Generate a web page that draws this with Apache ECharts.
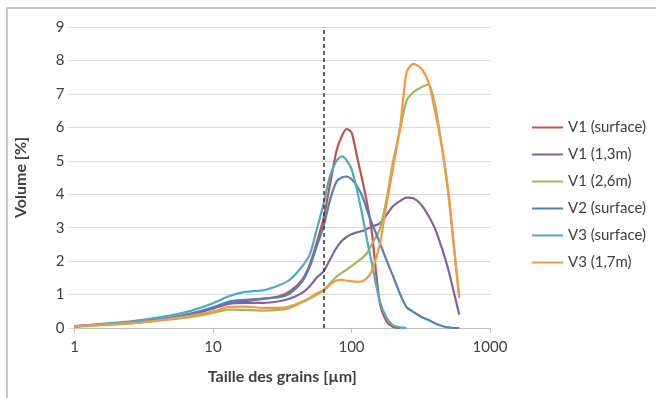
<!DOCTYPE html>
<html>
<head>
<meta charset="utf-8">
<script src="https://cdn.jsdelivr.net/npm/echarts@6/dist/echarts.min.js"></script>
<style>
  html, body { margin: 0; padding: 0; background: #fff; }
  #chart { width: 656px; height: 398px; }
</style>
</head>
<body>
<div id="chart"></div>
<script>
// taille des grains (µm)
var sizes = [1, 2, 3, 5, 7, 10, 13, 17, 23, 30, 36, 44, 50, 56, 63, 70, 78, 85, 92, 100,
  110, 120, 130, 140, 160, 180, 200, 225, 250, 280, 320, 360, 400, 450, 500, 550, 600];

// volume (%)
var v1Surface = [0.05, 0.13, 0.19, 0.3, 0.42, 0.6, 0.75, 0.8, 0.87, 0.95, 1.1, 1.44, 1.9, 2.54, 3.3, 4.3, 5.3, 5.73, 5.95, 5.85,
  5.1, 4.4, 3.7, 2.9, 0.75, 0.18, 0.03, 0, null, null, null, null, null, null, null, null, null];
var v1_13m = [0.05, 0.13, 0.19, 0.3, 0.4, 0.58, 0.72, 0.75, 0.75, 0.8, 0.88, 1.05, 1.25, 1.5, 1.7, 2.05, 2.4, 2.6, 2.72, 2.8,
  2.86, 2.9, 2.97, 3.03, 3.13, 3.4, 3.65, 3.8, 3.9, 3.88, 3.68, 3.35, 2.98, 2.38, 1.75, 1.05, 0.4];
var v1_26m = [0.04, 0.11, 0.16, 0.26, 0.33, 0.45, 0.55, 0.54, 0.52, 0.54, 0.6, 0.77, 0.88, 0.99, 1.14, 1.33, 1.54, 1.65, 1.74, 1.85,
  1.98, 2.1, 2.25, 2.5, 2.95, 3.9, 5.0, 5.95, 6.8, 7.05, 7.2, 7.28, 6.7, 5.4, 4.0, 2.4, 0.9];
var v2Surface = [0.05, 0.14, 0.2, 0.32, 0.44, 0.62, 0.79, 0.84, 0.88, 0.92, 1.04, 1.39, 1.84, 2.43, 3.05, 3.83, 4.38, 4.5, 4.53, 4.45,
  4.23, 3.93, 3.5, 3.15, 2.55, 2.0, 1.54, 1.0, 0.62, 0.48, 0.33, 0.24, 0.14, 0.06, 0.02, 0, 0];
var v3Surface = [0.06, 0.16, 0.24, 0.38, 0.52, 0.74, 0.95, 1.08, 1.13, 1.28, 1.45, 1.84, 2.2, 2.93, 3.74, 4.55, 5.0, 5.13, 5.02, 4.75,
  4.1, 3.35, 2.6, 1.95, 0.8, 0.3, 0.08, 0.02, 0, null, null, null, null, null, null, null, null];
var v3_17m = [0.05, 0.12, 0.17, 0.28, 0.37, 0.49, 0.63, 0.64, 0.6, 0.6, 0.65, 0.79, 0.9, 1.04, 1.12, 1.3, 1.42, 1.44, 1.42, 1.4,
  1.38, 1.4, 1.5, 1.7, 2.5, 3.75, 4.8, 6.05, 7.65, 7.9, 7.75, 7.35, 6.5, 5.4, 4.1, 2.4, 0.9];

var names = ['V1 (surface)', 'V1 (1,3m)', 'V1 (2,6m)', 'V2 (surface)', 'V3 (surface)', 'V3 (1,7m)'];
var colors = ['#C0504D', '#8064A2', '#9BBB59', '#4F81BD', '#4BACC6', '#F79646'];
var allValues = [v1Surface, v1_13m, v1_26m, v2Surface, v3Surface, v3_17m];
var limite = 63; // trait pointillé (µm)

var font = 'Lato, "Open Sans", sans-serif';

var chart = echarts.init(document.getElementById('chart'));

var series = names.map(function (n, k) {
  var data = [];
  sizes.forEach(function (s, i) {
    if (allValues[k][i] != null) data.push([s, allValues[k][i]]);
  });
  var s = {
    name: n,
    type: 'line',
    data: data,
    showSymbol: false,
    symbol: 'none',
    smooth: 0.25,
    lineStyle: { width: 2.2, color: colors[k] },
    itemStyle: { color: colors[k] },
    z: 3
  };
  if (k === 0) {
    s.markLine = {
      silent: true,
      symbol: ['none', 'none'],
      label: { show: false },
      lineStyle: { type: [4, 3], color: '#404040', width: 1.6 },
      data: [{ xAxis: limite }]
    };
  }
  return s;
});

var option = {
  animation: false,
  color: colors,
  textStyle: { fontFamily: font },
  graphic: [{
    type: 'rect',
    shape: { x: 7, y: 8, width: 670, height: 420 },
    style: { fill: 'none', stroke: '#c8c8c8', lineWidth: 2 }
  }],
  grid: { left: 74.5, right: 166, top: 27, bottom: 70 },
  legend: {
    orient: 'vertical',
    left: 527,
    top: 115,
    itemWidth: 31,
    itemHeight: 2,
    itemGap: 12,
    icon: 'rect',
    textStyle: { fontSize: 15, lineHeight: 15, color: '#404040', fontFamily: font },
    data: names
  },
  xAxis: {
    type: 'log',
    logBase: 10,
    min: 1,
    max: 1000,
    name: 'Taille des grains [µm]',
    nameLocation: 'middle',
    nameGap: 41,
    nameTextStyle: { fontSize: 16, fontWeight: 'bold', color: '#404040', fontFamily: font },
    axisLine: { lineStyle: { color: '#bfbfbf', width: 1 } },
    axisTick: { show: true, length: 5, lineStyle: { color: '#bfbfbf' } },
    minorTick: { show: false },
    axisLabel: {
      fontSize: 15, color: '#404040', margin: 12,
      formatter: function (v) { return String(v); }
    },
    splitLine: { show: false }
  },
  yAxis: {
    type: 'value',
    min: 0,
    max: 9,
    interval: 1,
    name: 'Volume [%]',
    nameLocation: 'middle',
    nameGap: 46,
    nameTextStyle: { fontSize: 16, fontWeight: 'bold', color: '#404040', fontFamily: font },
    axisLine: { show: false },
    axisTick: { show: true, length: 6, lineStyle: { color: '#d9d9d9' } },
    axisLabel: { fontSize: 15, color: '#404040', margin: 10 },
    splitLine: { lineStyle: { color: '#d9d9d9', width: 1 } }
  },
  series: series
};

chart.setOption(option);
window.onresize = function () {
  chart.resize();
};
</script>
</body>
</html>
